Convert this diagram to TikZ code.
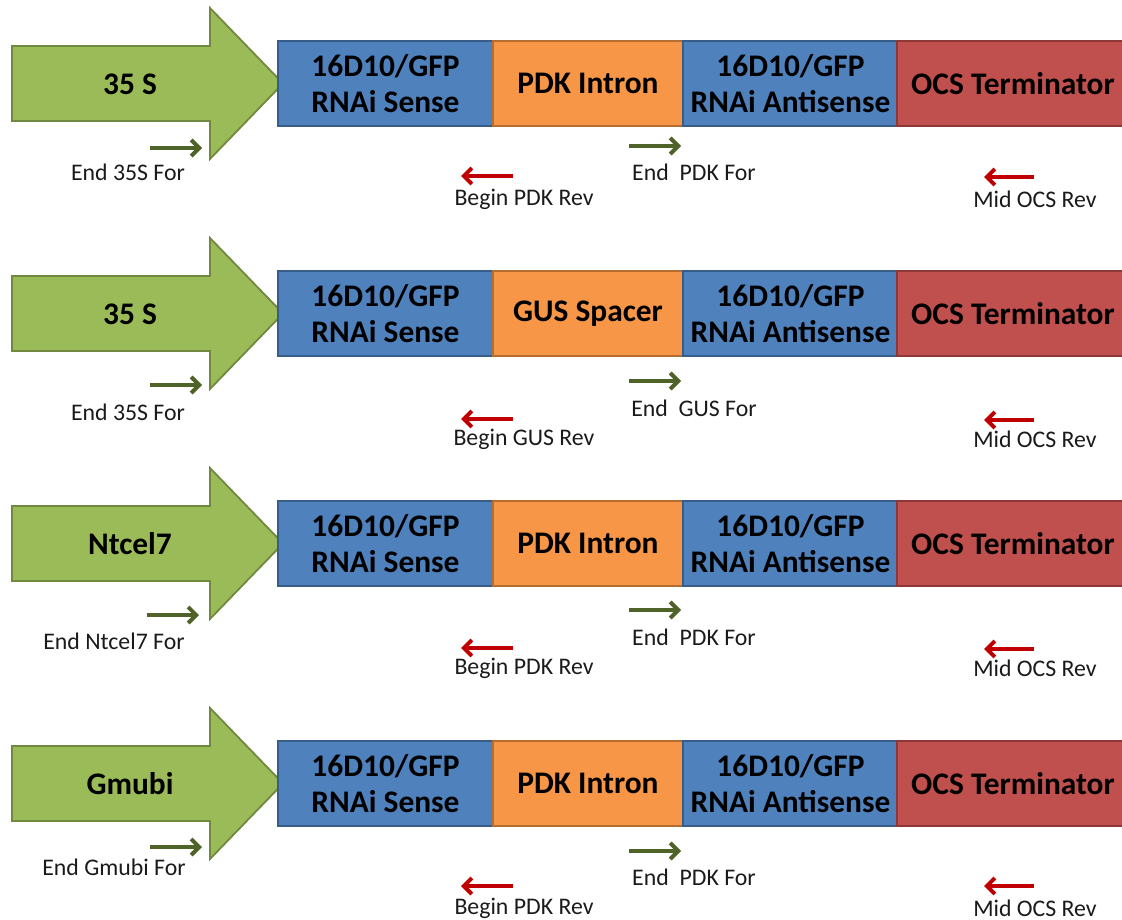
\documentclass[tikz,border=0pt]{standalone}
\usepackage{fontspec}
\setmainfont{Carlito}
\usetikzlibrary{arrows.meta}
\definecolor{promfill}{HTML}{9BBB59}
\definecolor{promline}{HTML}{71893F}
\definecolor{bluefill}{HTML}{4F81BD}
\definecolor{blueline}{HTML}{385D8A}
\definecolor{orfill}{HTML}{F79646}
\definecolor{orline}{HTML}{B66D31}
\definecolor{redfill}{HTML}{C0504D}
\definecolor{redline}{HTML}{8C3836}
\definecolor{fwd}{HTML}{4F6228}
\definecolor{rev}{HTML}{C00000}
\definecolor{lbl}{HTML}{1A1A1A}
\tikzset{
  seg/.style={rectangle, draw, line width=1.8pt, minimum height=85pt, inner sep=0pt,
    align=center, font=\fontsize{31.4}{36}\selectfont\bfseries, text=black},
  sense/.style={seg, fill=bluefill, draw=blueline, minimum width=215pt},
  spacer/.style={seg, fill=orfill, draw=orline, minimum width=190pt},
  term/.style={seg, fill=redfill, draw=redline, minimum width=232pt},
  promtext/.style={font=\fontsize{31.4}{36}\selectfont\bfseries, text=black},
  primlbl/.style={font=\fontsize{23.8}{28}\selectfont, text=lbl, inner sep=0pt},
  fwdarrow/.style={draw=fwd, line width=4pt, -{Straight Barb[length=8pt,width=16pt]}},
  revarrow/.style={draw=rev, line width=4pt, -{Straight Barb[length=8pt,width=16pt]}},
}
\begin{document}
\begin{tikzpicture}[x=1pt,y=-1pt]
\useasboundingbox (0,0) rectangle (1122,920);
\foreach \dy/\prom/\mid/\pp/\mp/\lx/\gx/\ga/\gal/\ra/\ral/\gb/\gbl/\rb/\rbl [count=\i] in {
  0/35 S/PDK Intron/35S/PDK/128/150/148/172/176/199/146/172/177/199,
  230/35 S/GUS Spacer/35S/GUS/128/150/385/412/419/439/381/408/420/439,
  460/Ntcel7/PDK Intron/Ntcel7/PDK/114/147/615/641/648/668/610/637/649/668,
  700/Gmubi/PDK Intron/Gmubi/PDK/114/150/847/867/886/908/851/877/886/908} {
  % promoter arrow
  \draw[fill=promfill, draw=promline, line width=1.8pt, line join=miter]
    (12,46+\dy) -- (210,46+\dy) -- (210,8+\dy) -- (283,83.5+\dy) -- (210,159+\dy)
    -- (210,121+\dy) -- (12,121+\dy) -- cycle;
  \node[promtext] (p\i) at (130,84+\dy) {\prom};
  % segments
  \node[sense] (s\i) at (385.5,83.5+\dy) {16D10/GFP\\RNAi Sense};
  \node[spacer] (m\i) at (588,83.5+\dy) {\mid};
  \node[sense] (a\i) at (790.5,83.5+\dy) {16D10/GFP\\RNAi Antisense};
  \node[term] (t\i) at (1013,83.5+\dy) {OCS Terminator};
  % primers
  \coordinate (g1s\i) at (\gx,\ga);
  \coordinate (g1e\i) at (\gx+52,\ga);
  \draw[fwdarrow] (g1s\i) -- (g1e\i);
  \node[primlbl] (gl1\i) at (\lx,\gal) {End \pp\ For};
  \coordinate (r1s\i) at (513,\ra);
  \coordinate (r1e\i) at (461,\ra);
  \draw[revarrow] (r1s\i) -- (r1e\i);
  \node[primlbl] (rl1\i) at (524,\ral) {Begin \mp\ Rev};
  \coordinate (g2s\i) at (629,\gb);
  \coordinate (g2e\i) at (681,\gb);
  \draw[fwdarrow] (g2s\i) -- (g2e\i);
  \node[primlbl] (gl2\i) at (694,\gbl) {End\ \ \mp\ For};
  \coordinate (r2s\i) at (1034,\rb);
  \coordinate (r2e\i) at (984,\rb);
  \draw[revarrow] (r2s\i) -- (r2e\i);
  \node[primlbl] (rl2\i) at (1035,\rbl) {Mid OCS Rev};
}
\end{tikzpicture}
\end{document}
